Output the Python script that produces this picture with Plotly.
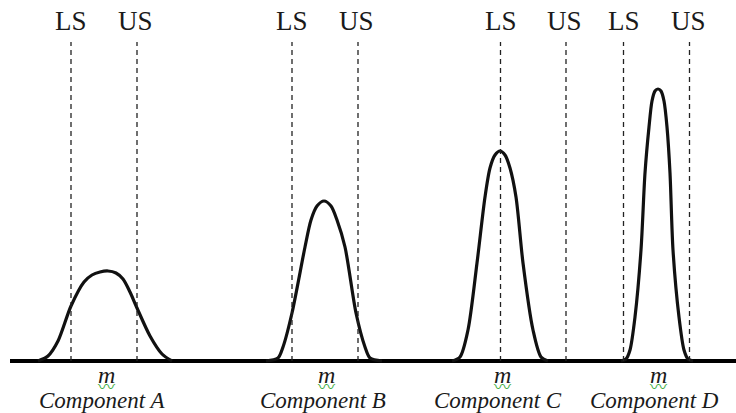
import plotly.graph_objects as go

# hand-read curve outlines (x position, height above baseline)
names = ["Component A", "Component B", "Component C", "Component D"]
means = [106, 326, 502, 658]

a_x = [38, 48, 58, 71, 84, 92, 100, 108, 116, 123, 130, 137, 150, 162, 172]
a_y = [0, 5, 20, 55, 79, 86, 89, 90, 88, 82, 69, 53, 25, 7, 0]
b_x = [266, 278, 283, 292, 305, 311, 317, 324, 331, 337, 345, 356, 365, 370, 382]
b_y = [0, 3, 14, 48, 114, 141, 155, 160, 155, 141, 114, 48, 14, 3, 0]
c_x = [452, 460, 468, 477, 485, 490, 495, 500, 505, 510, 516, 523, 533, 541, 548]
c_y = [0, 4, 31, 98, 164, 193, 206, 210, 206, 193, 164, 98, 31, 4, 0]
d_x = [621, 626, 630, 635, 641, 645, 649, 652, 655, 658, 661, 664, 667, 670, 673, 679, 684, 688, 693]
d_y = [0, 2, 11, 44, 111, 188, 234, 260, 270, 272, 270, 260, 234, 188, 111, 44, 11, 2, 0]

# spec limits
ls_x = [71, 292, 500.5, 623.5]
us_x = [137, 358, 566, 689.5]
spec_top = 319

curves = [(a_x, a_y), (b_x, b_y), (c_x, c_y), (d_x, d_y)]

fig = go.Figure()
for cx, cy in curves:
    fig.add_trace(go.Scatter(
        x=cx, y=cy, mode="lines",
        line=dict(color="#111111", width=3.2, shape="spline", smoothing=0.8),
        hoverinfo="skip", showlegend=False,
    ))

for xv in ls_x + us_x:
    fig.add_shape(type="line", x0=xv, x1=xv, y0=0, y1=spec_top,
                  xref="x", yref="y",
                  line=dict(color="#222222", width=1.3, dash="5px,4px"))

serif = "Liberation Serif, Times New Roman, serif"
for xv in ls_x:
    fig.add_annotation(x=xv, y=340, text="LS", showarrow=False,
                       font=dict(family=serif, size=27, color="#1a1a1a"))
for xv in us_x:
    fig.add_annotation(x=xv - 1.5, y=340, text="US", showarrow=False,
                       font=dict(family=serif, size=27, color="#1a1a1a"))

label_x = [101.5, 323, 498, 654.5]
for m, lx, nm in zip(means, label_x, names):
    fig.add_annotation(x=m, y=-14, text="<i>m</i>", showarrow=False,
                       font=dict(family=serif, size=24, color="#1a1a1a"))
    fig.add_annotation(x=m, y=-24, text="〰", showarrow=False,
                       font=dict(family="Noto Sans CJK SC", size=17, color="#3fae3f"))
    fig.add_annotation(x=lx, y=-39, text="<i>" + nm + "</i>", showarrow=False,
                       font=dict(family=serif, size=23, color="#1a1a1a"))

fig.update_layout(
    width=736, height=413,
    margin=dict(l=10, r=0, t=0, b=0),
    paper_bgcolor="white", plot_bgcolor="white",
    xaxis=dict(range=[10, 736], visible=False, fixedrange=True),
    yaxis=dict(range=[-52, 361], showgrid=False, showticklabels=False,
               zeroline=True, zerolinecolor="#000000", zerolinewidth=3.5,
               fixedrange=True),
    showlegend=False,
)

fig.write_html("out.html", config={"displayModeBar": False},
               post_script="document.body.style.margin='0';document.body.style.overflow='hidden';")
